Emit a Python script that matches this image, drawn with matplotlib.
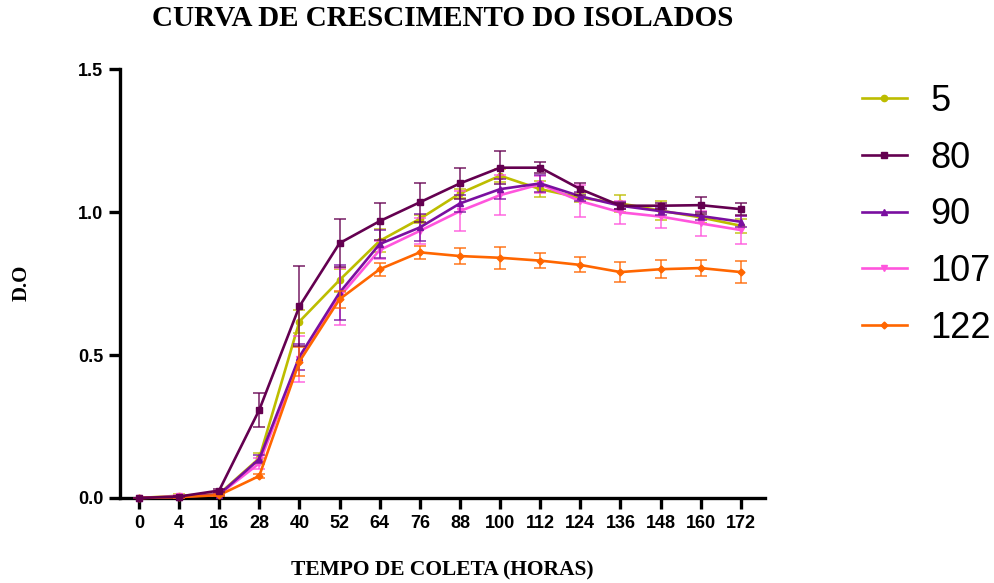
import numpy as np
import matplotlib.pyplot as plt
from matplotlib.lines import Line2D

# sampling times (hours) - plotted as evenly spaced categories
horas = ["0", "4", "16", "28", "40", "52", "64", "76", "88", "100", "112", "124", "136", "148", "160", "172"]

# mean optical density per isolate
do_5 = [0.000, 0.008, 0.014, 0.139, 0.617, 0.762, 0.899, 0.976, 1.065, 1.127, 1.080, 1.050, 1.030, 1.005, 0.981, 0.952]
do_80 = [0.000, 0.005, 0.026, 0.308, 0.670, 0.891, 0.968, 1.034, 1.100, 1.155, 1.155, 1.080, 1.022, 1.022, 1.024, 1.010]
do_90 = [0.000, 0.004, 0.012, 0.136, 0.494, 0.718, 0.888, 0.946, 1.030, 1.080, 1.100, 1.055, 1.022, 1.003, 0.986, 0.966]
do_107 = [0.000, 0.006, 0.012, 0.121, 0.485, 0.704, 0.867, 0.934, 1.003, 1.059, 1.097, 1.038, 0.999, 0.984, 0.960, 0.937]
do_122 = [0.000, 0.003, 0.010, 0.077, 0.477, 0.695, 0.800, 0.859, 0.846, 0.840, 0.830, 0.815, 0.790, 0.800, 0.804, 0.790]

# standard deviations
sd_5 = [0.0, 0.005, 0.004, 0.020, 0.040, 0.040, 0.040, 0.015, 0.017, 0.023, 0.028, 0.015, 0.030, 0.034, 0.020, 0.025]
sd_80 = [0.0, 0.003, 0.006, 0.060, 0.140, 0.085, 0.065, 0.068, 0.055, 0.057, 0.020, 0.020, 0.010, 0.010, 0.030, 0.020]
sd_90 = [0.0, 0.003, 0.004, 0.015, 0.045, 0.095, 0.050, 0.047, 0.030, 0.035, 0.030, 0.015, 0.012, 0.012, 0.015, 0.020]
sd_107 = [0.0, 0.005, 0.004, 0.020, 0.080, 0.100, 0.030, 0.045, 0.070, 0.070, 0.030, 0.055, 0.040, 0.040, 0.045, 0.050]
sd_122 = [0.0, 0.002, 0.003, 0.008, 0.050, 0.030, 0.022, 0.023, 0.027, 0.039, 0.026, 0.026, 0.036, 0.031, 0.029, 0.038]

isolados = ["5", "80", "90", "107", "122"]
medias = [do_5, do_80, do_90, do_107, do_122]
desvios = [sd_5, sd_80, sd_90, sd_107, sd_122]
cores = ["#bdbd00", "#640050", "#7a0fa0", "#ff55dd", "#ff6600"]
marcadores = ["o", "s", "^", "v", "D"]
tam = [4.5, 5, 4, 4, 3.5]
ordem = [1, 5, 3, 2, 4]

fig = plt.figure(figsize=(9.94, 5.83), dpi=100)
ax = fig.add_axes([0.1207, 0.1458, 0.6489, 0.7358])

x = np.arange(len(horas))
handles = []
for nome, m, s, c, mk, ms, z in zip(isolados, medias, desvios, cores, marcadores, tam, ordem):
    eb = ax.errorbar(x, m, yerr=s, color=c, marker=mk, markersize=ms, linewidth=1.9,
                     elinewidth=1.3, capsize=4.5, capthick=1.3, zorder=z,
                     clip_on=False)
    for part in eb[1] + eb[2]:
        part.set_alpha(0.75)
    handles.append(Line2D([], [], color=c, marker=mk, markersize=ms, linewidth=1.9, label=nome))

ax.set_xlim(-0.47, 15.6)
ax.set_ylim(0, 1.5)
ax.set_xticks(x)
ax.set_xticklabels(horas)
ax.set_yticks([0, 0.5, 1.0, 1.5])
ax.set_yticklabels(["0.0", "0.5", "1.0", "1.5"])

for sp in ["top", "right"]:
    ax.spines[sp].set_visible(False)
for sp in ["left", "bottom"]:
    ax.spines[sp].set_linewidth(2.4)
ax.tick_params(axis="both", length=8, width=2.4, direction="out", pad=4)

for lab in ax.get_xticklabels() + ax.get_yticklabels():
    lab.set_fontfamily(["Liberation Sans", "DejaVu Sans"])
    lab.set_fontweight("bold")
    lab.set_fontsize(13)

serif = ["Liberation Serif", "DejaVu Serif"]
fig.text(0.4452, 0.968, "CURVA DE CRESCIMENTO DO ISOLADOS", ha="center", va="center",
         family=serif, weight="bold", size=21)
fig.text(0.4452, 0.022, "TEMPO DE COLETA (HORAS)", ha="center", va="center",
         family=serif, weight="bold", size=15.5)
fig.text(0.022, 0.515, "D.O", ha="center", va="center", rotation=90,
         family=serif, weight="bold", size=15)

leg = ax.legend(handles=handles, loc="upper left", bbox_to_anchor=(0.867, 0.856),
                bbox_transform=fig.transFigure, frameon=False, handlelength=1.25,
                handletextpad=0.65, labelspacing=0.6, borderaxespad=0, borderpad=0,
                prop=dict(family=["Liberation Sans", "DejaVu Sans"], size=26))

fig.savefig("out.png", dpi=100)
